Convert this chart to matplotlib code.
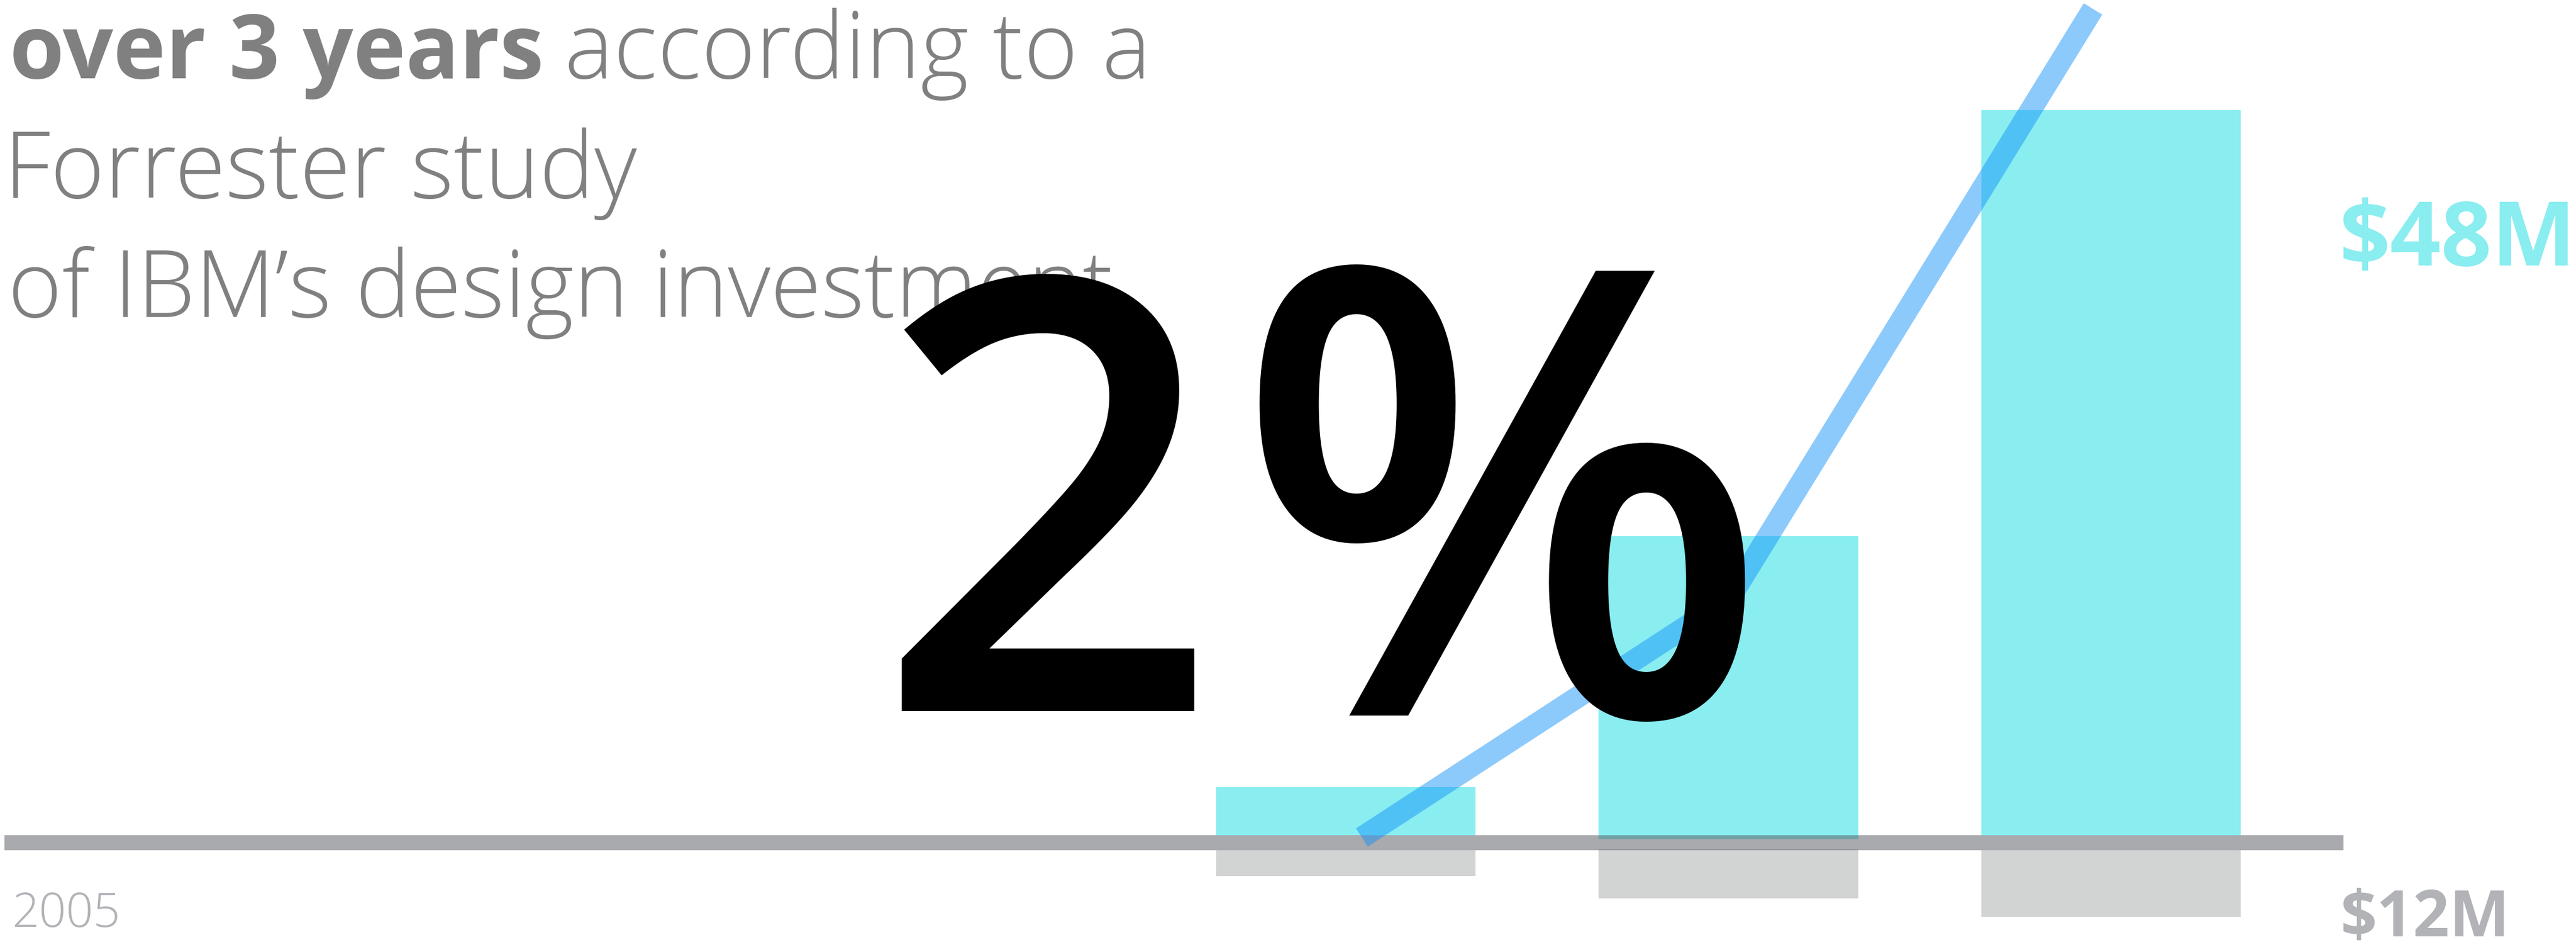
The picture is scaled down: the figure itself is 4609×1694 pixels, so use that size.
import matplotlib
matplotlib.use("Agg")
import matplotlib.pyplot as plt
from matplotlib.font_manager import FontProperties
from matplotlib.textpath import TextPath

W, H, DPI = 4609, 1694, 100

# bar positions and values (units of $M, baseline at 0)
periods = [0, 1, 2]
return_top = [3.2, 19.8, 48.0]
return_base = [0.0, -0.26, 0.0]
invest_top = [-1.0, -0.93, -1.0]
invest_bottom = [-2.7, -4.18, -5.4]

# growth line
line_x = [0.042, 1.004, 1.953]
line_y = [-0.15, 15.7, 54.7]

title_bold = "over 3 years"
title_rest = ["according to a", "Forrester study", "of IBM\u2019s design investment"]
start_label = "2005"
top_label = "$48M"
low_label = "$12M"
big_number = "2"
big_sign = "%"

CYAN = "#8aedf0"
GREY_BAR = "#d2d4d4"
BLUE = "#1192fa"
TEXT_GREY = "#808080"
LABEL_GREY = "#b1b3b7"

FAMILY = ["Open Sans", "DejaVu Sans"]
LIGHT = FontProperties(family=FAMILY, weight=300)
BOLD = FontProperties(family=FAMILY, weight=700)
SEMI = FontProperties(family=FAMILY, weight=600)


def ink(s, prop):
    ext = TextPath((0, 0), s, size=1, prop=prop).get_extents()
    return ext.x0, ext.x1, ext.y0, ext.y1


def size_for_width(s, prop, width_px):
    x0, x1, _, _ = ink(s, prop)
    return width_px * 72 / (DPI * (x1 - x0))


def size_for_height(s, prop, height_px):
    _, _, y0, y1 = ink(s, prop)
    return height_px * 72 / (DPI * (y1 - y0))


def place(fig, s, left_px, base_px, size, prop, color, **kw):
    x0 = ink(s, prop)[0] * size * DPI / 72
    return fig.text((left_px - x0) / W, 1 - base_px / H, s, fontproperties=prop,
                    fontsize=size, color=color, va="baseline", ha="left", **kw)


def place_right(fig, s, right_px, base_px, size, prop, color, **kw):
    x0, x1, _, _ = ink(s, prop)
    left = right_px - (x1 - x0) * size * DPI / 72
    return place(fig, s, left, base_px, size, prop, color, **kw)


fig = plt.figure(figsize=(W / DPI, H / DPI), dpi=DPI)
ax = fig.add_axes([0, 0, 1, 1])
ax.set_xlim(-3.518, 3.2155)
ax.set_ylim(-7.402, 55.29)
ax.axis("off")

heights = [t - b for t, b in zip(return_top, return_base)]
ax.bar(periods, heights, bottom=return_base, width=0.679, color=CYAN, lw=0, zorder=1)
ax.bar(periods, [b - t for t, b in zip(invest_top, invest_bottom)], bottom=invest_top,
       width=0.679, color=GREY_BAR, lw=0, zorder=1)
ax.axhspan(-1, 0, xmin=8 / W, xmax=4193 / W, color="#54565c", alpha=0.5, lw=0, zorder=2)
ax.plot(line_x, line_y, color=BLUE, alpha=0.48, lw=28, solid_capstyle="butt",
        solid_joinstyle="miter", zorder=3)

# headline text
body = size_for_width(title_rest[1], LIGHT, 1116)
place(fig, title_bold, 24, 140, size_for_width(title_bold, BOLD, 943), BOLD, TEXT_GREY)
place(fig, title_rest[0], 1018, 140, body, LIGHT, TEXT_GREY)
place(fig, title_rest[1], 24, 354, body, LIGHT, TEXT_GREY)
place(fig, title_rest[2], 24, 567, body, LIGHT, TEXT_GREY)

place(fig, start_label, 26, 1658, size_for_width(start_label, LIGHT, 184), LIGHT, LABEL_GREY)
place(fig, top_label, 4192, 475, size_for_width(top_label, BOLD, 402), BOLD, CYAN)
place(fig, low_label, 4192, 1675, size_for_width(low_label, BOLD, 288), BOLD, LABEL_GREY)

big = size_for_height(big_number, SEMI, 783)
place(fig, big_number, 1613, 1272, big, SEMI, "black", zorder=5)
place_right(fig, big_sign, 3122, 1280, big * 1.03, SEMI, "black", zorder=5)

fig.savefig("out.png", dpi=DPI)
